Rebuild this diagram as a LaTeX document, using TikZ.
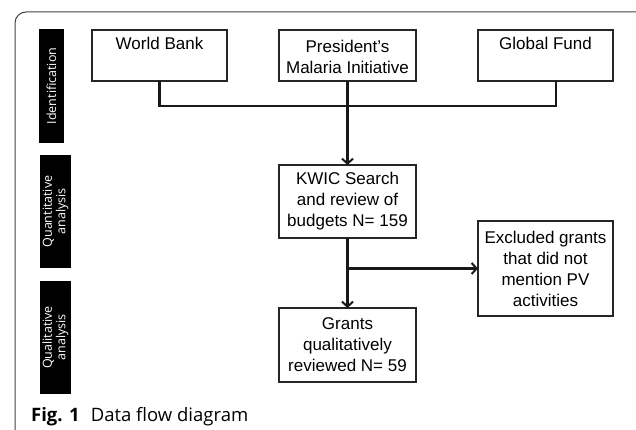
\documentclass[tikz,border=0pt]{standalone}
\usepackage{fontspec}
\setmainfont{Liberation Sans}
\newfontfamily\capfont{Open Sans}
\usetikzlibrary{arrows.meta}
\tikzset{
  flowbox/.style={draw=black!85, line width=1.9pt, fill=white, align=center,
    minimum width=#1, inner sep=2pt, outer sep=0pt,
    font=\fontsize{17}{21}\selectfont},
  flowbox/.default=135pt,
  bar/.style={fill=black, draw=none, inner sep=0pt, outer sep=0pt},
  bartext/.style={text=white, rotate=90, align=center,
    font=\capfont\fontsize{12.5}{13.5}\selectfont},
  link/.style={draw=black!90, line width=2.2pt},
  arr/.style={link, -{Straight Barb[length=5pt,width=11pt,line width=2pt]}}
}
\begin{document}
\begin{tikzpicture}[x=1pt,y=-1pt]
\useasboundingbox (0,0) rectangle (636,430);
\begin{scope}
\clip (0,0) rectangle (636,430);
\draw[draw=black!75, line width=1pt, rounded corners=11pt] (15,12) rectangle (648,460);
\end{scope}

% side bars
\node[bar, minimum width=25pt, minimum height=114pt] (b1) at (51.5,86) {};
\node[bartext] (t1) at (b1.center) {Identification};
\node[bar, minimum width=31pt, minimum height=113pt] (b2) at (55.5,211.5) {};
\node[bartext] (t2) at (b2.center) {Quantitative\\analysis};
\node[bar, minimum width=31pt, minimum height=113pt] (b3) at (55.5,337.5) {};
\node[bartext] (t3) at (b3.center) {Qualitative\\analysis};

% boxes
\node[flowbox, minimum height=51pt] (wb) at (159.5,55.5) {\rule{0pt}{16pt}World Bank\\\strut};
\node[flowbox=137pt, minimum height=51pt] (pmi) at (347.5,55.5) {\rule{0pt}{16pt}President’s\\Malaria Initiative};
\node[flowbox, minimum height=51pt] (gf) at (545.5,55.5) {\rule{0pt}{16pt}Global Fund\\\strut};
\node[flowbox=137pt, minimum height=73pt] (kwic) at (347.5,201.5) {KWIC Search\\and review of\\budgets N= 159};
\node[flowbox=137pt, minimum height=74pt] (gr) at (347.5,345) {Grants\\qualitatively\\reviewed N= 59};
\node[flowbox, minimum height=95pt] (ex) at (545.5,268.5) {Excluded grants\\that did not\\mention PV\\activities};

% connectors
\coordinate (j1) at (159.5,106);
\coordinate (j2) at (556,106);
\draw[link] (wb.south) -- (j1) -- (j2) -- (j2 |- gf.south);
\draw[arr] (pmi.south) -- (kwic.north);
\draw[arr] (kwic.south) -- (gr.north);
\coordinate (br) at (347.5,268.5);
\draw[arr] (br) -- (ex.west);

% caption
\node[anchor=base west, inner sep=0pt, font=\capfont\fontsize{18.5}{22}\selectfont] (cap) at (31,421)
  {\textbf{Fig. 1}\hspace{0.6em}Data flow diagram};
\end{tikzpicture}
\end{document}
